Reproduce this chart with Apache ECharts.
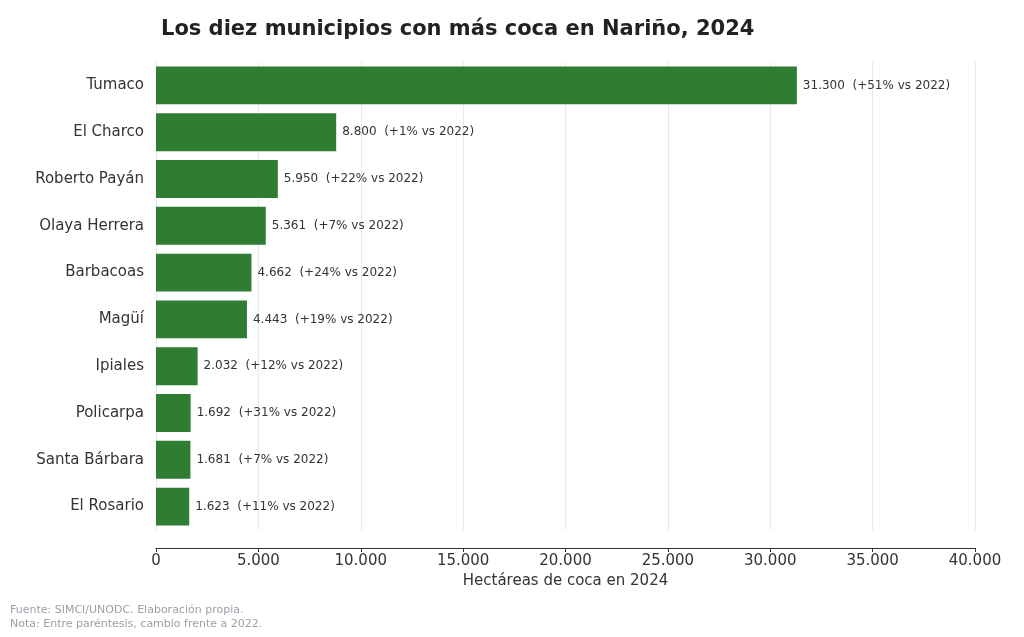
<!DOCTYPE html>
<html><head><meta charset="utf-8">
<script src="https://cdn.jsdelivr.net/npm/echarts@6/dist/echarts.min.js"></script>
<style>html,body{margin:0;background:#fff}#c{width:1024px;height:637px}</style>
</head><body><div id="c"></div>
<script>
const municipios = ['Tumaco', 'El Charco', 'Roberto Payán', 'Olaya Herrera', 'Barbacoas', 'Magüí', 'Ipiales', 'Policarpa', 'Santa Bárbara', 'El Rosario']
const hectareas = [31300, 8800, 5950, 5361, 4662, 4443, 2032, 1692, 1681, 1623]
const cambio = ['+51%', '+1%', '+22%', '+7%', '+24%', '+19%', '+12%', '+31%', '+7%', '+11%']

const fmt = v => String(v).replace(/\B(?=(\d{3})+(?!\d))/g, '.')
const font = 'DejaVu Sans'

const chart = echarts.init(document.getElementById('c'))
chart.setOption({
  animation: false,
  textStyle: { fontFamily: font },
  title: {
    text: 'Los diez municipios con más coca en Nariño, 2024',
    left: 156, top: 14,
    textStyle: { fontSize: 21, fontWeight: 'bold', color: '#222', fontFamily: font }
  },
  graphic: [
    { type: 'text', left: 10, top: 603, style: { text: 'Fuente: SIMCI/UNODC. Elaboración propia.\nNota: Entre paréntesis, cambio frente a 2022.', fill: '#9aa0a8', fontSize: 11, lineHeight: 14, fontFamily: font } }
  ],
  grid: { left: 156, right: 49, top: 62, bottom: 107 },
  xAxis: {
    type: 'value', min: 0, max: 40000, interval: 5000,
    offset: 18,
    name: 'Hectáreas de coca en 2024', nameLocation: 'middle', nameGap: 24,
    nameTextStyle: { fontSize: 15, color: '#333' },
    axisLine: { show: true, lineStyle: { color: '#333' } },
    axisTick: { show: true, length: 4, lineStyle: { color: '#333' } },
    axisLabel: { fontSize: 15, color: '#333', formatter: fmt, margin: 6 },
    splitLine: { lineStyle: { color: '#e8e8e8' } }
  },
  yAxis: {
    type: 'category', inverse: true, data: municipios,
    axisLine: { show: false }, axisTick: { show: false },
    axisLabel: { fontSize: 15, color: '#333', margin: 12 }
  },
  series: [{
    type: 'bar', data: hectareas, barWidth: '81%',
    itemStyle: { color: '#2e7d32' },
    label: {
      show: true, position: 'right', distance: 6, fontSize: 12, color: '#333',
      formatter: p => fmt(p.value) + '  (' + cambio[p.dataIndex] + ' vs 2022)'
    }
  }]
})
</script></body></html>
